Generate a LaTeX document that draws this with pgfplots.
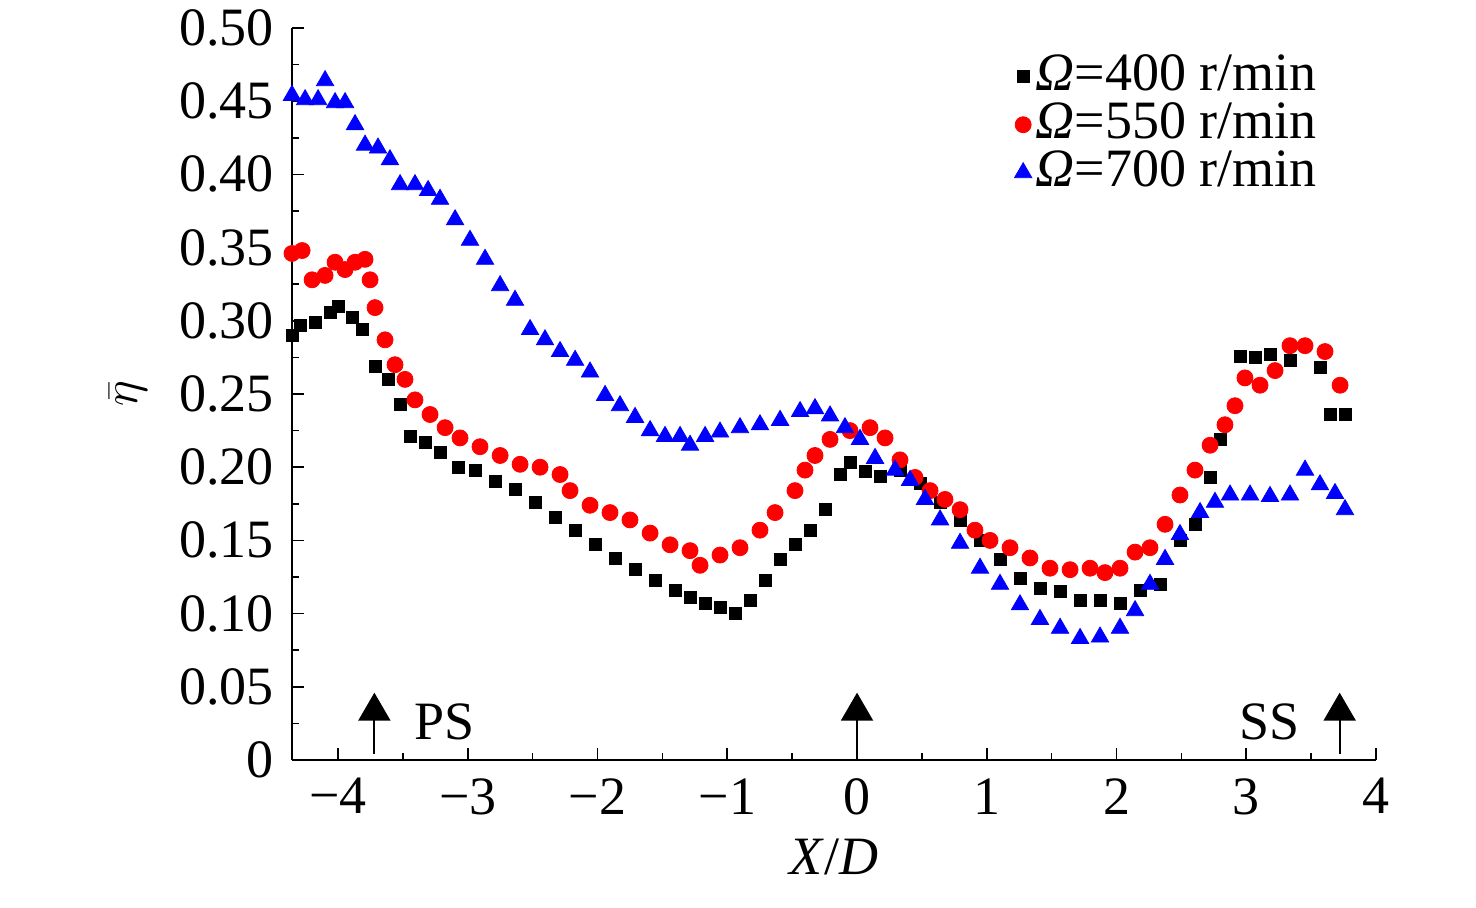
\documentclass[border=0pt]{standalone}
\usepackage{fontspec}
\setmainfont{Liberation Serif}
\usepackage{pgfplots}
\pgfplotsset{compat=1.18}
\usetikzlibrary{arrows.meta}
\begin{document}
\fontsize{27}{31}\selectfont
\begin{tikzpicture}
\useasboundingbox (-146pt,-73.5pt) rectangle (592pt,380pt);
\begin{axis}[
  at={(0,0)}, anchor=south west, scale only axis,
  width=542pt, height=366pt,
  xmin=-4.355, xmax=4, ymin=0, ymax=0.5,
  axis lines=left, axis line style={-, line width=1pt},
  clip=false,
  xtick={-4,-3,-2,-1,0,1,2,3,4},
  xticklabels={−4,−3,−2,−1,0,1,2,3,4},
  ytick={0,0.05,0.1,0.15,0.2,0.25,0.3,0.35,0.4,0.45,0.5},
  yticklabels={0,0.05,0.10,0.15,0.20,0.25,0.30,0.35,0.40,0.45,0.50},
  minor x tick num=1, minor y tick num=1,
  tick align=inside, major tick length=6pt, minor tick length=3.5pt,
  tick style={line width=0.8pt, black},
  /pgf/number format/assume math mode=true,
  tick label style={font=\fontsize{27}{31}\selectfont},
  xlabel={\textit{X}/\textit{D}}, ylabel={$\bar{\eta}$},
  label style={font=\fontsize{27}{31}\selectfont},
  xlabel style={yshift=6pt},
  ylabel style={yshift=-2pt},
  legend style={draw=none, fill=none, at={(0.955,0.975)}, anchor=north east, font=\fontsize{27}{31}\selectfont, row sep=-2pt},
  legend cell align=left,
]
\addplot[only marks, mark=square*, mark size=3pt, black] coordinates {
(-4.355,0.290)(-4.293,0.297)(-4.177,0.299)(-4.062,0.306)(-4.0,0.310)(-3.892,0.302)(-3.815,0.294)
(-3.715,0.269)(-3.615,0.260)(-3.522,0.243)(-3.445,0.221)(-3.329,0.217)(-3.214,0.210)(-3.075,0.200)
(-2.944,0.198)(-2.79,0.190)(-2.636,0.185)(-2.482,0.176)(-2.328,0.166)(-2.173,0.157)(-2.019,0.147)
(-1.865,0.138)(-1.711,0.130)(-1.557,0.123)(-1.403,0.116)(-1.287,0.111)(-1.171,0.107)(-1.056,0.104)
(-0.94,0.100)(-0.825,0.109)(-0.709,0.123)(-0.593,0.137)(-0.478,0.147)(-0.362,0.157)(-0.247,0.171)
(-0.131,0.195)(-0.054,0.203)(0.062,0.197)(0.177,0.194)(0.331,0.198)(0.486,0.189)(0.640,0.176)
(0.794,0.164)(0.948,0.150)(1.102,0.137)(1.256,0.124)(1.410,0.117)(1.565,0.115)(1.719,0.109)
(1.873,0.109)(2.027,0.107)(2.181,0.116)(2.335,0.120)(2.489,0.150)(2.605,0.161)(2.721,0.193)
(2.798,0.219)(2.952,0.276)(3.067,0.275)(3.183,0.277)(3.337,0.273)(3.568,0.268)(3.645,0.236)(3.761,0.236)
};
\addlegendentry{\textit{Ω}=400 r/min}
\addplot[only marks, mark=*, mark size=4pt, red] coordinates {
(-4.355,0.346)(-4.277,0.348)(-4.2,0.328)(-4.1,0.331)(-4.023,0.340)(-3.946,0.335)(-3.869,0.340)
(-3.792,0.342)(-3.753,0.328)(-3.715,0.309)(-3.638,0.287)(-3.561,0.270)(-3.484,0.260)(-3.407,0.246)
(-3.291,0.236)(-3.175,0.227)(-3.06,0.220)(-2.906,0.214)(-2.751,0.208)(-2.597,0.202)(-2.443,0.200)
(-2.289,0.195)(-2.212,0.184)(-2.058,0.174)(-1.904,0.169)(-1.750,0.164)(-1.595,0.155)(-1.441,0.147)
(-1.287,0.143)(-1.21,0.133)(-1.056,0.140)(-0.902,0.145)(-0.748,0.157)(-0.632,0.169)(-0.478,0.184)
(-0.401,0.198)(-0.324,0.208)(-0.208,0.219)(-0.054,0.225)(0.100,0.227)(0.216,0.220)(0.331,0.205)
(0.447,0.193)(0.563,0.184)(0.678,0.178)(0.794,0.171)(0.909,0.157)(1.025,0.150)(1.179,0.145)
(1.333,0.138)(1.487,0.131)(1.642,0.130)(1.796,0.131)(1.911,0.128)(2.027,0.131)(2.143,0.142)
(2.258,0.145)(2.374,0.161)(2.489,0.181)(2.605,0.198)(2.721,0.215)(2.836,0.229)(2.913,0.242)
(2.99,0.261)(3.106,0.256)(3.222,0.266)(3.337,0.283)(3.453,0.283)(3.607,0.279)(3.723,0.256)
};
\addlegendentry{\textit{Ω}=550 r/min}
\addplot[only marks, mark=triangle*, mark size=5pt, blue] coordinates {
(-4.355,0.454)(-4.254,0.451)(-4.154,0.451)(-4.1,0.464)(-4.023,0.449)(-3.946,0.449)(-3.869,0.434)
(-3.792,0.420)(-3.692,0.418)(-3.6,0.410)(-3.522,0.393)(-3.407,0.393)(-3.306,0.389)(-3.214,0.383)
(-3.098,0.369)(-2.983,0.355)(-2.867,0.342)(-2.751,0.324)(-2.636,0.314)(-2.52,0.294)(-2.405,0.287)
(-2.289,0.279)(-2.173,0.273)(-2.058,0.265)(-1.942,0.249)(-1.827,0.242)(-1.711,0.234)(-1.595,0.225)
(-1.48,0.221)(-1.364,0.221)(-1.287,0.215)(-1.171,0.221)(-1.056,0.224)(-0.902,0.227)(-0.748,0.229)
(-0.593,0.232)(-0.439,0.238)(-0.324,0.240)(-0.208,0.235)(-0.093,0.227)(0.023,0.219)(0.139,0.206)
(0.293,0.198)(0.409,0.191)(0.524,0.178)(0.640,0.164)(0.794,0.148)(0.948,0.131)(1.102,0.120)
(1.256,0.106)(1.410,0.096)(1.565,0.090)(1.719,0.083)(1.873,0.084)(2.027,0.090)(2.143,0.102)
(2.258,0.120)(2.374,0.137)(2.489,0.154)(2.644,0.169)(2.759,0.176)(2.875,0.181)(3.029,0.181)
(3.183,0.180)(3.337,0.181)(3.453,0.198)(3.568,0.188)(3.684,0.182)(3.761,0.171)
};
\addlegendentry{\textit{Ω}=700 r/min}
\foreach \xx in {-3.72,0,3.72}{
  \edef\tmp{\noexpand\draw[line width=1pt,-{Triangle[length=14pt,width=16pt]}] (axis cs:\xx,0.004) -- (axis cs:\xx,0.046);}\tmp
}
\node[anchor=west] at (axis cs:-3.55,0.026) {PS};
\node[anchor=east] at (axis cs:3.55,0.026) {SS};
\end{axis}
\end{tikzpicture}
\end{document}
